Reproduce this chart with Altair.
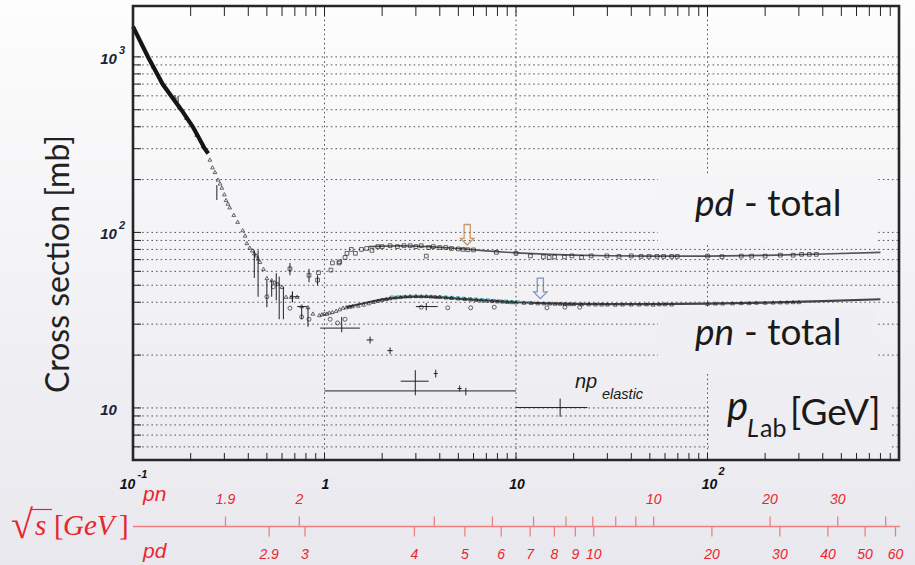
import altair as alt
import pandas as pd

# ---------------- data (p_lab in GeV/c, sigma in mb) ----------------
# dense low-energy np total band
band_x = [0.100, 0.120, 0.143, 0.179, 0.206, 0.237, 0.247]
band_y = [1489, 996, 698, 499, 397, 300, 282]

# scattered low-energy np points (triangles)
low_x = [0.128, 0.165, 0.19, 0.215, 0.232, 0.252, 0.26, 0.268, 0.278, 0.285,
         0.291, 0.30, 0.306, 0.313, 0.32, 0.336, 0.352, 0.374, 0.385, 0.393,
         0.407, 0.42, 0.43, 0.44, 0.45, 0.46, 0.48, 0.50, 0.53, 0.55,
         0.57, 0.60, 0.63, 0.67, 0.72, 0.76, 0.82, 0.87]
low_y = [880, 590, 450, 360, 310, 260, 235, 221, 200, 190,
         180, 165, 153, 146, 139, 126, 115, 103, 96, 87,
         82, 79, 76, 74, 71, 68, 62, 55, 53.5, 52,
         51, 49, 43, 43, 43, 38, 37.5, 34.5]

# vertical error bars at low energy
lerr_x = [0.172, 0.274, 0.43, 0.45, 0.50, 0.53, 0.56, 0.58, 0.61, 0.68, 0.76, 0.82, 0.66, 0.83, 0.92]
lerr_lo = [500, 153, 55, 43, 37.5, 43, 41, 32, 32, 40, 32, 29, 57, 52, 50]
lerr_hi = [600, 186, 79, 79, 53.5, 53.5, 58.6, 56, 49, 46, 37.5, 37.5, 67, 62, 57]

# pd total (open squares)
pd_x = [0.66, 0.83, 0.92, 0.93, 1.08, 1.10, 1.19, 1.20, 1.28, 1.31,
        1.38, 1.45, 1.56, 1.66, 1.77, 1.90, 2.00, 2.20, 2.40, 2.60,
        2.80, 3.00, 3.20, 3.40, 3.50, 3.70, 4.00, 4.30, 4.60, 5.00,
        5.30, 5.60, 6.00, 7.90, 10.0, 11.9, 13.9, 14.9, 15.9, 17.9,
        19.6, 22.0, 24.7, 29.8, 34.5, 40.0, 45.0, 49.5, 54.5, 59.0,
        65.0, 69.5, 100, 119, 150, 170, 200, 240, 280, 310,
        340, 370]
pd_y = [62, 57, 53.5, 59, 61, 67, 67, 68, 72, 76,
        80, 76, 80, 81, 79, 83, 83, 84, 83, 84,
        84, 83, 84, 73.3, 82, 83, 82, 82, 81, 80.5,
        80, 79.7, 79.5, 77, 76, 73.5, 72.5, 72, 72.5, 72.5,
        73.5, 72, 73.5, 73.5, 73, 73.5, 73, 73, 73, 73,
        73, 73, 73.3, 72.8, 73.3, 73.3, 73.3, 74.2, 74.2, 75,
        75, 75]

# pn total (triangles)
pn_x = [0.94, 0.97, 1.00, 1.03, 1.06, 1.10, 1.15, 1.20, 1.25, 1.30,
        1.35, 1.40, 1.50, 1.60, 1.70, 1.80, 1.90, 2.00, 2.10, 2.20,
        2.35, 2.50, 2.65, 2.80, 3.00, 3.20, 3.40, 3.60, 3.80, 4.00,
        4.30, 4.60, 5.00, 5.40, 5.80, 6.20, 6.60, 7.00, 7.50, 8.00,
        8.50, 9.00, 9.50, 10.0, 11.0, 12.0, 13.0, 14.0, 15.0, 16.0,
        17.0, 18.0, 19.0, 20.0, 22.0, 24.0, 26.0, 28.0, 30.0, 33.0,
        36.0, 40.0, 44.0, 48.0, 52.0, 56.0, 60.0, 65.0, 100, 110,
        120, 135, 150, 165, 180, 200, 220, 240, 260, 280, 300]
pn_y = [33.8, 34.2, 34.5, 34.5, 35.0, 35.2, 35.8, 36.5, 37.3, 37.5,
        37.8, 38.0, 38.3, 38.8, 39.5, 40.2, 40.8, 41.3, 41.8, 42.2,
        42.6, 42.9, 43.2, 43.3, 43.4, 43.3, 43.4, 43.2, 43.0, 42.9,
        42.6, 42.4, 42.1, 41.8, 41.5, 41.3, 41.0, 40.9, 40.7, 40.5,
        40.4, 40.2, 40.1, 40.0, 39.8, 39.7, 39.5, 39.5, 39.4, 39.3,
        39.3, 39.2, 39.1, 39.1, 39.0, 39.0, 38.9, 38.9, 38.9, 38.8,
        38.9, 38.9, 38.9, 39.0, 38.8, 39.0, 39.0, 38.9, 39.3, 39.4,
        39.4, 39.5, 39.6, 39.6, 39.8, 39.8, 39.9, 40.0, 40.0, 40.1, 40.1]

# other open circles
circ_x = [0.50, 0.54, 0.66, 0.76, 0.83, 1.07, 1.17, 1.28, 3.2, 4.4, 5.8, 7.7, 14.5, 18, 21.5]
circ_y = [43, 49, 37, 33, 32, 32, 30.5, 32, 37.5, 37.2, 37.2, 37.5, 37.2, 37.5, 37.5]

# crosses (np elastic and others) with x / y errors
cr_x = [1.73, 2.2, 2.98, 3.81, 5.08, 5.47, 17.0, 1.23, 3.16, 0.68, 0.76, 3.4]
cr_y = [24.4, 21.2, 14.2, 15.7, 12.9, 12.4, 10.05, 28.5, 12.5, 43, 37.8, 37.8]
cr_xlo = [1.66, 2.13, 2.5, 3.72, 4.95, 5.47, 10, 0.95, 1.0, 0.66, 0.72, 3.0]
cr_xhi = [1.80, 2.27, 3.5, 3.90, 5.2, 5.47, 23.6, 1.53, 10, 0.74, 0.81, 3.9]
cr_ylo = [23.3, 20.3, 11.8, 14.9, 12.4, 11.8, 8.9, 27, 12.5, 40, 37.8, 36.0]
cr_yhi = [25.5, 22.1, 16.4, 16.5, 13.4, 13.0, 11.3, 33, 12.5, 46, 37.8, 39.6]

# fit curves
pdfit_x = [1.7, 2.5, 3.5, 5, 7, 10, 15, 20, 30, 50, 100, 200, 400, 800]
pdfit_y = [83, 84, 83, 81, 78.5, 76.5, 75, 74.2, 73.7, 73.3, 73.3, 74, 75.3, 77]
pnfit_x = [1.3, 1.6, 2, 2.5, 3, 4, 5, 7, 10, 15, 20, 30, 50, 100, 200, 400, 800]
pnfit_y = [37.5, 39.5, 41.5, 42.8, 43.2, 42.8, 42, 41, 40, 39.4, 39.2, 39, 39, 39.3, 39.8, 40.6, 41.6]
cyan_x = [2.2, 3, 4, 5, 6.5, 9, 12]
cyan_y = [43.3, 43.8, 43.5, 42.9, 42, 41, 40.2]

# arrows
arrow_x = [5.56, 13.4]
arrow_y = [97, 48]
arrow_col = ["#b8732e", "#4a6ea8"]

# grid and tick values
grid_y = [6, 7, 8, 9, 10, 20, 30, 40, 50, 60, 70, 80, 90,
          100, 200, 300, 400, 500, 600, 700, 800, 900, 1000]
grid_x = [1, 10, 100]
xtick_vals = [0.2, 0.3, 0.4, 0.5, 0.6, 0.7, 0.8, 0.9, 1, 2, 3, 4, 5, 6, 7, 8, 9,
              10, 20, 30, 40, 50, 60, 70, 80, 90, 100, 200, 300, 400, 500, 600, 700, 800, 900]
xlab_vals = [0.1, 1, 10, 100]
xlab_txt = ["10", "1", "10", "10"]
xsup_txt = ["-1", "", "", "2"]
ylab_vals = [1000, 100, 10]
ylab_txt = ["10", "10", "10"]
ysup_txt = ["3", "2", ""]

# sqrt(s) secondary scale: p_lab positions of sqrt(s) values
pn_s_p = [0.304, 0.739, 3.744, 7.53, 12.35, 18.23, 25.16, 33.17, 42.23, 52.35, 212.3, 478.8, 851.9]
pn_s_lab = ["1.9", "2", "", "", "", "", "", "", "", "10", "20", "30", ""]
pd_s_p = [0.514, 0.791, 2.947, 5.41, 8.373, 11.854, 15.861, 20.40, 25.47, 105.46, 238.76, 425.38, 665.3, 958.6]
pd_s_lab = ["2.9", "3", "4", "5", "6", "7", "8", "9", "10", "20", "30", "40", "50", "60"]

# ---------------- chart ----------------
W, H = 766, 454
xs = alt.Scale(type="log", domain=[0.1, 1000], nice=False)
ys = alt.Scale(type="log", domain=[5.05, 1950], nice=False)
one = pd.DataFrame({"a": [0]})
RED = "#e8262d"
RED_L = "#ef8080"


def XF(f="x"):
    return alt.X(f"{f}:Q", scale=xs, axis=None)


def YF(f="y"):
    return alt.Y(f"{f}:Q", scale=ys, axis=None)


def txt(t, x, y, size, font="Lato", style="normal", weight="normal",
        color="#1a1a1a", align="left", baseline="alphabetic", angle=None):
    kw = dict(font=font, fontSize=size, fontStyle=style, fontWeight=weight,
              color=color, align=align, baseline=baseline)
    if angle is not None:
        kw["angle"] = angle
    return alt.Chart(one).mark_text(**kw).encode(
        x=alt.value(x), y=alt.value(y), text=alt.value(t))


layers = []

# background gradient
grad = alt.Gradient(gradient="linear",
                    stops=[alt.GradientStop(color="#fdfdfd", offset=0),
                           alt.GradientStop(color="#e8e8ee", offset=1)],
                    x1=0, x2=0, y1=0, y2=1)
layers.append(alt.Chart(one).mark_rect(fill=grad).encode(
    x=alt.value(-133), x2=alt.value(782), y=alt.value(-6), y2=alt.value(559)))

# grid lines
layers.append(alt.Chart(pd.DataFrame({"y": grid_y})).mark_rule(
    color="#555555", strokeDash=[1.6, 3], strokeWidth=1).encode(
    y=YF(), x=alt.value(0), x2=alt.value(W)))
layers.append(alt.Chart(pd.DataFrame({"x": grid_x})).mark_rule(
    color="#555555", strokeDash=[1.6, 3], strokeWidth=1).encode(
    x=XF(), y=alt.value(0), y2=alt.value(H)))

# label boxes hiding the grid
for (bx1, bx2, by1, by2, col) in [(525, 744, 170, 237, "#f5f5f7"),
                                  (525, 744, 303, 366, "#f0f0f4"),
                                  (576, 758, 372, 452, "#eeeef2")]:
    layers.append(alt.Chart(one).mark_rect(fill=col).encode(
        x=alt.value(bx1), x2=alt.value(bx2), y=alt.value(by1), y2=alt.value(by2)))

# fits
layers.append(alt.Chart(pd.DataFrame({"x": pdfit_x, "y": pdfit_y})).mark_line(
    color="#555555", strokeWidth=1.6).encode(x=XF(), y=YF()))
layers.append(alt.Chart(pd.DataFrame({"x": pnfit_x, "y": pnfit_y})).mark_line(
    color="#444444", strokeWidth=2.2).encode(x=XF(), y=YF()))
layers.append(alt.Chart(pd.DataFrame({"x": cyan_x, "y": cyan_y})).mark_line(
    color="#3ab0c0", strokeWidth=1.2, strokeDash=[4, 2]).encode(x=XF(), y=YF()))

# dense band
layers.append(alt.Chart(pd.DataFrame({"x": band_x, "y": band_y})).mark_line(
    color="#151515", strokeWidth=4.2).encode(x=XF(), y=YF()))

# error bars
layers.append(alt.Chart(pd.DataFrame({"x": lerr_x, "lo": lerr_lo, "hi": lerr_hi})).mark_rule(
    color="#222", strokeWidth=1).encode(x=XF(), y=YF("lo"), y2="hi:Q"))
crdf = pd.DataFrame({"x": cr_x, "y": cr_y, "xlo": cr_xlo, "xhi": cr_xhi, "ylo": cr_ylo, "yhi": cr_yhi})
layers.append(alt.Chart(crdf).mark_rule(color="#222", strokeWidth=1).encode(
    x=XF("xlo"), x2="xhi:Q", y=YF()))
layers.append(alt.Chart(crdf).mark_rule(color="#222", strokeWidth=1).encode(
    x=XF(), y=YF("ylo"), y2="yhi:Q"))

# points
layers.append(alt.Chart(pd.DataFrame({"x": low_x, "y": low_y})).mark_point(
    shape="triangle-up", size=14, filled=False, color="#111", strokeWidth=0.9).encode(x=XF(), y=YF()))
layers.append(alt.Chart(pd.DataFrame({"x": pn_x, "y": pn_y})).mark_point(
    shape="triangle-up", size=14, filled=False, color="#111", strokeWidth=0.9).encode(x=XF(), y=YF()))
layers.append(alt.Chart(pd.DataFrame({"x": pd_x, "y": pd_y})).mark_point(
    shape="square", size=14, filled=False, color="#111", strokeWidth=0.9).encode(x=XF(), y=YF()))
layers.append(alt.Chart(pd.DataFrame({"x": circ_x, "y": circ_y})).mark_point(
    shape="circle", size=16, filled=False, color="#111", strokeWidth=0.9).encode(x=XF(), y=YF()))

# arrows
arrow_path = "M-0.3,-1 L-0.3,0.35 L-0.65,0.35 L0,1 L0.65,0.35 L0.3,0.35 L0.3,-1 Z"
layers.append(alt.Chart(pd.DataFrame({"x": arrow_x, "y": arrow_y, "c": arrow_col})).mark_point(
    shape=arrow_path, size=420, filled=False, strokeWidth=1.3).encode(
    x=XF(), y=YF(), stroke=alt.Stroke("c:N", scale=None)))

# frame and inward ticks
layers.append(alt.Chart(one).mark_rect(fillOpacity=0, stroke="#262626", strokeWidth=2.6).encode(
    x=alt.value(0), x2=alt.value(W), y=alt.value(0), y2=alt.value(H)))
xt = pd.DataFrame({"x": xtick_vals})
layers.append(alt.Chart(xt).mark_rule(color="#222", strokeWidth=1).encode(
    x=XF(), y=alt.value(H - 7), y2=alt.value(H)))
layers.append(alt.Chart(xt).mark_rule(color="#222", strokeWidth=1).encode(
    x=XF(), y=alt.value(0), y2=alt.value(10)))
layers.append(alt.Chart(pd.DataFrame({"y": grid_y})).mark_rule(color="#222", strokeWidth=1).encode(
    y=YF(), x=alt.value(0), x2=alt.value(8)))

# axis tick labels (ROOT style)
xdx = [-5.5, 1, 1, 2]
sdx = [9.5, 0, 0, 14]
sy = [469, 0, 0, 466]
for i in range(4):
    d = pd.DataFrame({"x": [xlab_vals[i]], "t": [xlab_txt[i]], "s": [xsup_txt[i]]})
    layers.append(alt.Chart(d).mark_text(
        font="Liberation Sans", fontSize=14, fontStyle="italic", fontWeight="bold",
        color="#111", align="center", baseline="middle", dx=xdx[i]).encode(
        x=XF(), y=alt.value(479), text="t:N"))
    if xsup_txt[i]:
        layers.append(alt.Chart(d).mark_text(
            font="Liberation Sans", fontSize=11, fontStyle="italic", fontWeight="bold",
            color="#111", align="center", baseline="middle", dx=sdx[i]).encode(
            x=XF(), y=alt.value(sy[i]), text="s:N"))
yd = pd.DataFrame({"y": ylab_vals, "t": ylab_txt, "s": ysup_txt})
layers.append(alt.Chart(yd).mark_text(
    font="Liberation Sans", fontSize=15, fontStyle="italic", fontWeight="bold",
    color="#1c1f3c", align="center", baseline="middle", dy=2).encode(
    y=YF(), x=alt.value(-24.5), text="t:N"))
layers.append(alt.Chart(yd).mark_text(
    font="Liberation Sans", fontSize=11, fontStyle="italic", fontWeight="bold",
    color="#1c1f3c", align="center", baseline="middle", dy=-6).encode(
    y=YF(), x=alt.value(-11), text="s:N"))

# texts
layers.append(txt("Cross section [mb]", -74, 258, 32, angle=270, align="center", baseline="middle", color="#222"))
layers.append(txt("pd", 562, 210, 37, style="italic", color="#1a1a1a"))
layers.append(txt("- total", 611, 210, 37, color="#1a1a1a"))
layers.append(txt("pn", 562, 339, 37, style="italic", color="#1a1a1a"))
layers.append(txt("- total", 611, 339, 37, color="#1a1a1a"))
layers.append(txt("p", 594, 414, 40, style="italic"))
layers.append(txt("L", 614, 431, 25, style="italic"))
layers.append(txt("ab", 627, 431, 25))
layers.append(txt("[GeV]", 657, 419, 37))
layers.append(txt("np", 442, 382, 20, font="Liberation Sans", style="italic"))
layers.append(txt("elastic", 469, 393, 14.5, font="Liberation Sans", style="italic"))

# sqrt(s) scale
layers.append(alt.Chart(one).mark_rule(color=RED_L, strokeWidth=1.5).encode(
    x=alt.value(0), x2=alt.value(767), y=alt.value(520.5)))
pns = pd.DataFrame({"x": pn_s_p, "t": pn_s_lab})
pds = pd.DataFrame({"x": pd_s_p, "t": pd_s_lab})
layers.append(alt.Chart(pns).mark_rule(color=RED_L, strokeWidth=1.3).encode(
    x=XF(), y=alt.value(510.5), y2=alt.value(520.5)))
layers.append(alt.Chart(pds).mark_rule(color=RED_L, strokeWidth=1.3).encode(
    x=XF(), y=alt.value(520.5), y2=alt.value(530.5)))
layers.append(alt.Chart(pns).mark_text(
    font="Liberation Sans", fontSize=14, fontStyle="italic", color=RED,
    align="center", baseline="middle").encode(x=XF(), y=alt.value(494), text="t:N"))
layers.append(alt.Chart(pds).mark_text(
    font="Liberation Sans", fontSize=14, fontStyle="italic", color=RED,
    align="center", baseline="middle").encode(x=XF(), y=alt.value(549), text="t:N"))
layers.append(txt("pn", 10, 495, 21, font="Liberation Sans", style="italic", color=RED))
layers.append(txt("pd", 10, 552, 21, font="Liberation Sans", style="italic", color=RED))
layers.append(txt("\u221a", -122, 532, 40, font="Liberation Serif", color=RED))
layers.append(txt("s", -98, 529, 29, font="Liberation Serif", style="italic", color=RED))
layers.append(txt("[", -79, 529, 29, font="Liberation Serif", color=RED))
layers.append(txt("GeV", -70, 529, 29, font="Liberation Serif", style="italic", color=RED))
layers.append(txt("]", -14, 529, 29, font="Liberation Serif", color=RED))
layers.append(alt.Chart(one).mark_rule(color=RED, strokeWidth=1.2).encode(
    x=alt.value(-102), x2=alt.value(-81), y=alt.value(503.5)))

chart = alt.layer(*layers).properties(
    width=W, height=H,
    autosize=alt.AutoSizeParams(type="none"),
    padding={"left": 133, "top": 6, "right": 16, "bottom": 105},
    background="#f3f3f6",
).configure_view(strokeWidth=0)

chart.save("out.html", embed_options={"renderer": "svg", "actions": False})
